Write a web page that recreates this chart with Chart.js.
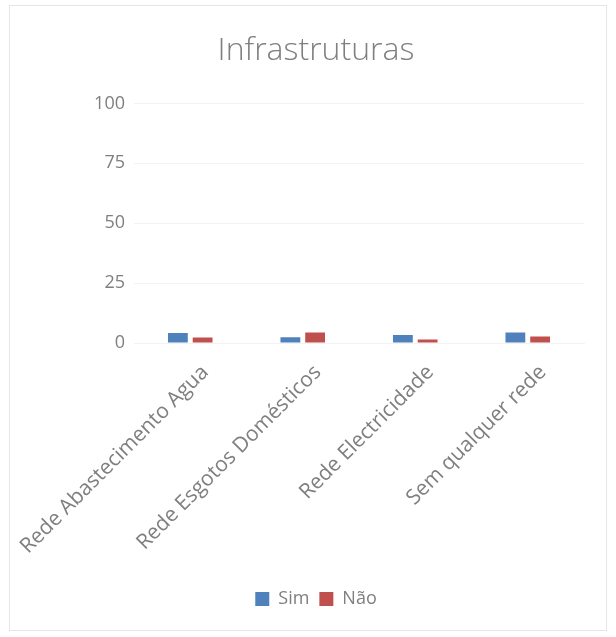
<!DOCTYPE html>
<html>
<head>
<meta charset="utf-8">
<script src="https://cdn.jsdelivr.net/npm/chart.js@4"></script>
<style>
  html, body { margin: 0; padding: 0; background: #fff; }
  #frame {
    position: absolute; left: 9px; top: 5px; width: 598px; height: 626px;
    border: 1px solid #e6e6e6; box-sizing: border-box;
  }
  canvas { position: absolute; left: 0; top: 0; display: block; }
</style>
</head>
<body>
<div id="frame"></div>
<canvas id="chart" width="616" height="637"></canvas>
<script>
// Data
const categories = ['Rede Abastecimento Agua', 'Rede Esgotos Domésticos', 'Rede Electricidade', 'Sem qualquer rede'];
const simValues = [4.2, 2.4, 3.3, 4.4];
const naoValues = [2.3, 4.4, 1.5, 2.7];
const yTicks = [0, 25, 50, 75, 100];

const textColor = '#7f7f7f';
const fontFamily = "'Open Sans', 'Liberation Sans', sans-serif";

const ctx = document.getElementById('chart').getContext('2d');
new Chart(ctx, {
    type: 'bar',
    data: {
        labels: categories,
        datasets: [
            { label: 'Sim', data: simValues, backgroundColor: '#4f81bd' },
            { label: 'Não', data: naoValues, backgroundColor: '#c0504d' }
        ]
    },
    options: {
        responsive: false,
        animation: false,
        datasets: { bar: { categoryPercentage: 0.44, barPercentage: 0.8 } },
        layout: { padding: { left: 48, right: 32, top: 16, bottom: 19 } },
        plugins: {
            title: {
                display: true,
                text: 'Infrastruturas',
                color: textColor,
                font: { family: fontFamily, size: 32, weight: 300 },
                padding: { top: 16, bottom: 33 }
            },
            legend: {
                position: 'bottom',
                labels: {
                    color: textColor,
                    font: { family: fontFamily, size: 18 },
                    boxWidth: 14, boxHeight: 14,
                    padding: 10
                }
            },
            tooltip: { enabled: false }
        },
        scales: {
            y: {
                min: 0, max: 100,
                afterBuildTicks: axis => { axis.ticks = yTicks.map(v => ({ value: v })); },
                afterFit: axis => { axis.width = 86; },
                grid: { color: '#f2f2f2', drawTicks: false },
                border: { display: false },
                ticks: { color: textColor, font: { family: fontFamily, size: 18 }, padding: 9 }
            },
            x: {
                afterFit: axis => {
                    axis.height += 12;
                    axis.paddingLeft = 0;
                    axis.paddingRight = 0;
                },
                grid: { display: false },
                border: { color: '#f2f2f2' },
                ticks: {
                    color: textColor,
                    font: { family: fontFamily, size: 21 },
                    minRotation: 45, maxRotation: 45,
                    labelOffset: 15,
                    padding: 9
                }
            }
        }
    }
});
</script>
</body>
</html>
